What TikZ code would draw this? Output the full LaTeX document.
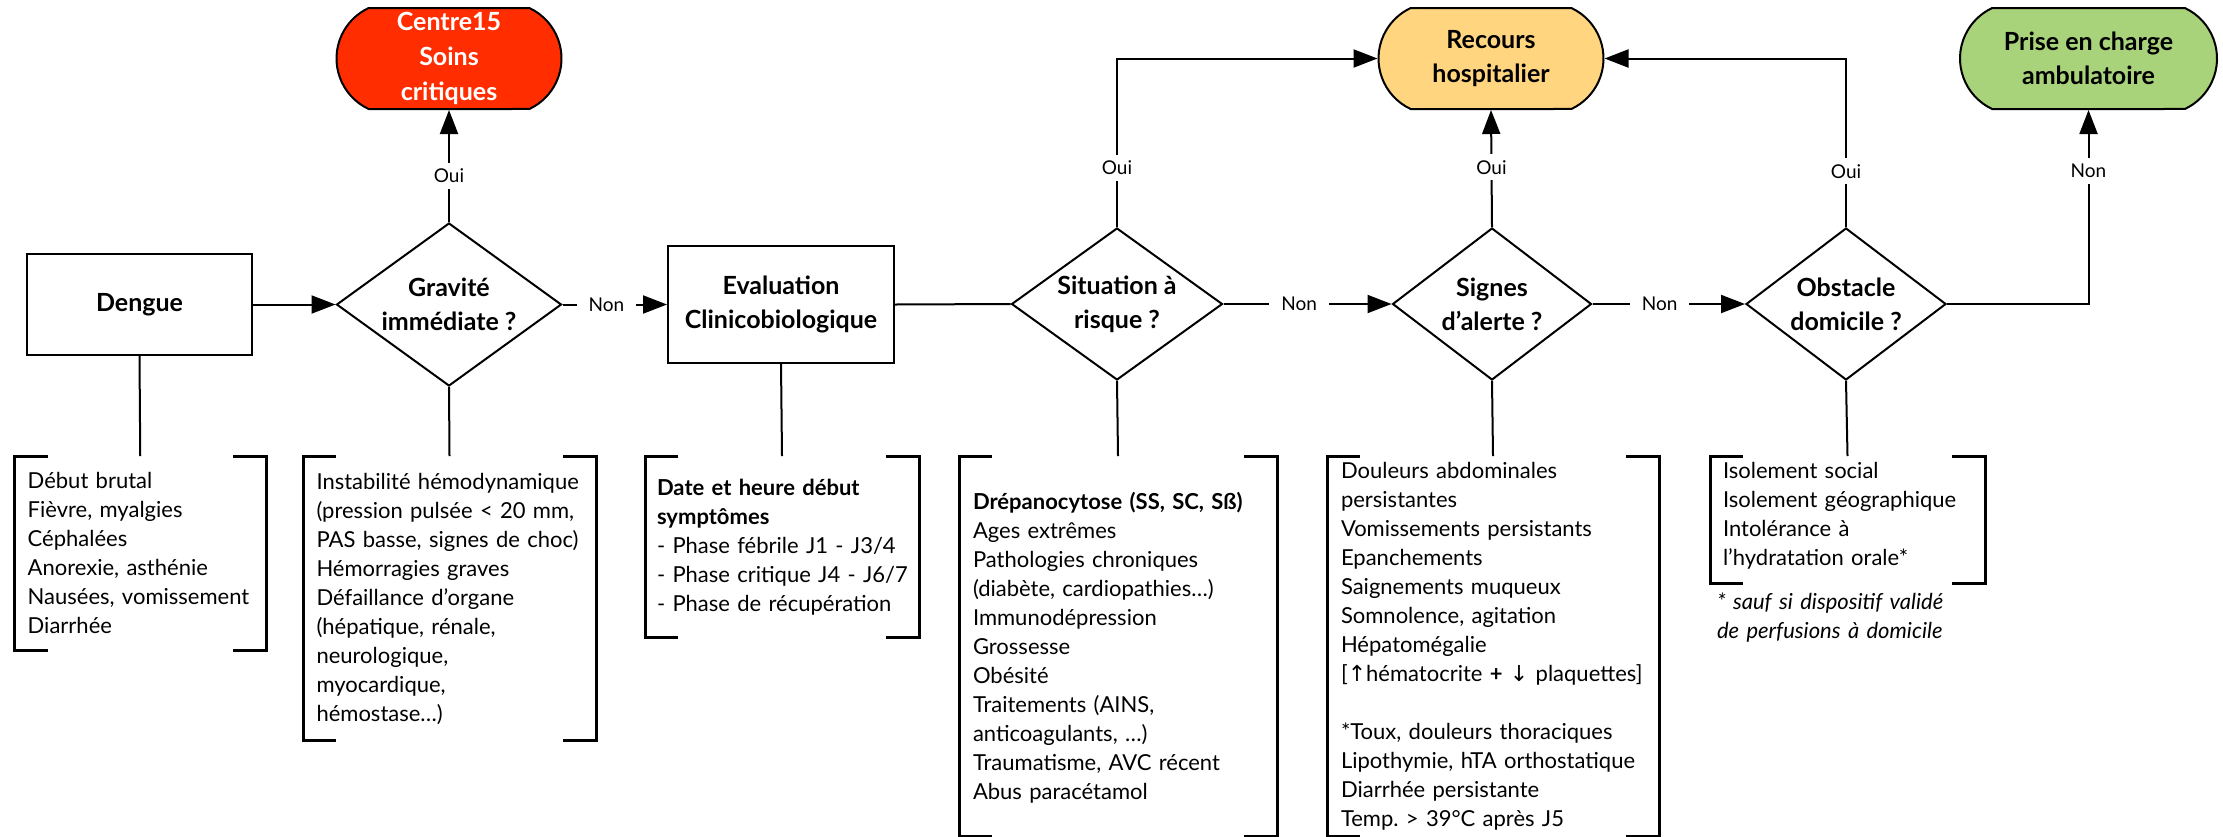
\documentclass[tikz,border=0pt]{standalone}
\usepackage{fontspec}
\setmainfont{Lato}
\newfontfamily\arrowfont{DejaVu Sans}
\usetikzlibrary{shapes.geometric,shapes.misc,arrows.meta}
\definecolor{cred}{HTML}{FF2D00}
\definecolor{cyel}{HTML}{FFD580}
\definecolor{cgrn}{HTML}{A9D37A}
\frenchspacing
\newcommand\drawbrk[1]{%
  \draw[brk] ([xshift=33pt]#1.north west) -- (#1.north west) -- (#1.south west) -- ([xshift=33pt]#1.south west);
  \draw[brk] ([xshift=-33pt]#1.north east) -- (#1.north east) -- (#1.south east) -- ([xshift=-33pt]#1.south east);}
\begin{document}
\begin{tikzpicture}[x=1pt,y=-1pt,line width=2pt,
  box/.style={draw, rectangle, inner sep=0pt, font=\fontsize{25}{34}\selectfont\bfseries, align=center},
  term/.style={draw, rounded rectangle, rounded rectangle arc length=130, minimum height=101pt, inner sep=0pt, font=\fontsize{25}{34}\selectfont\bfseries, align=center},
  dec/.style={draw, diamond, inner sep=0pt, font=\fontsize{25}{34}\selectfont\bfseries, align=center},
  lab/.style={fill=white, inner xsep=12pt, inner ysep=6pt, font=\fontsize{19}{22}\selectfont},
  arr/.style={-{Triangle[length=24pt,width=18pt]}},
  brk/.style={line width=3pt},
  brkbox/.style={inner sep=0pt, draw=none, anchor=north west},
  lst/.style={anchor=base west, inner sep=0pt, align=left, font=\fontsize{22}{29}\selectfont},
]
\fill[white] (0,0) rectangle (2223,836);
\useasboundingbox (0,0) rectangle (2223,836);

% main nodes
\node[box, minimum width=225pt, minimum height=101pt] (dengue) at (139.5,304.5) {Dengue};
\node[dec, minimum width=225pt, minimum height=163pt, aspect=1.38] (grav) at (449,304.5) {Gravité\\immédiate ?};
\node[box, minimum width=226pt, minimum height=117pt] (eval) at (781,304.5) {Evaluation\\Clinicobiologique};
\node[dec, minimum width=211pt, minimum height=152pt, aspect=1.39] (sit) at (1117,304) {Situation à\\risque ?};
\node[dec, minimum width=199pt, minimum height=152pt, aspect=1.31] (sig) at (1492,304) {Signes\\d’alerte ?};
\node[dec, minimum width=200pt, minimum height=152pt, aspect=1.31] (obs) at (1846,304) {Obstacle\\domicile ?};

\node[term, fill=cred, text=white, minimum width=225pt, font=\fontsize{25}{35}\selectfont\bfseries] (c15) at (449,58.5) {Centre15\\Soins\\critiques};
\node[term, fill=cyel, minimum width=225pt] (rec) at (1491,58.5) {Recours\\hospitalier};
\node[term, fill=cgrn, minimum width=257pt] (amb) at (2088.5,58.5) {Prise en charge\\ambulatoire};

% connectors
\draw[arr] (dengue.east) -- (grav.west);
\draw[arr] (grav.north) -- node[lab, pos=0.41] {Oui} (c15.south);
\draw[arr] (grav.east) -- node[lab, pos=0.42] {Non} (eval.west);
\draw (eval.east) -- (sit.west);
\draw[arr] (sit.north) |- node[lab, pos=0.176] {Oui} (rec.west);
\draw[arr] (sit.east) -- node[lab, pos=0.45] {Non} (sig.west);
\draw[arr] (sig.north) -- node[lab, pos=0.51] {Oui} (rec.south);
\draw[arr] (sig.east) -- node[lab, pos=0.44] {Non} (obs.west);
\draw[arr] (obs.north) |- node[lab, pos=0.165] {Oui} (rec.east);
\draw[arr] (obs.east) -| node[lab, pos=0.843] {Non} (amb.south);

% bracket boxes
\node[brkbox, minimum width=249.5pt, minimum height=192.5pt] (b1) at (14.5,456) {};
\node[brkbox, minimum width=291pt, minimum height=282pt] (b2) at (303,456) {};
\node[brkbox, minimum width=272pt, minimum height=179pt] (b3) at (645,456) {};
\node[brkbox, minimum width=316pt, minimum height=378pt] (b4) at (959,456) {};
\node[brkbox, minimum width=330pt, minimum height=378pt] (b5) at (1327,456) {};
\node[brkbox, minimum width=273pt, minimum height=125pt] (b6) at (1710,456) {};
\drawbrk{b1}\drawbrk{b2}\drawbrk{b3}\drawbrk{b4}\drawbrk{b5}\drawbrk{b6}

\draw (dengue.south) -- (b1.north);
\draw (grav.south) -- (b2.north);
\draw (eval.south) -- (b3.north);
\draw (sit.south) -- (b4.north);
\draw (sig.south) -- (b5.north);
\draw (obs.south) -- (b6.north);

% lists
\node[lst, text width=235pt] (t1) at (26.7,488) {Début brutal\\Fièvre, myalgies\\Céphalées\\Anorexie, asthénie\\Nausées, vomissement\\Diarrhée};
\node[lst, text width=275pt] (t2) at (315.5,489) {Instabilité hémodynamique\\(pression pulsée < 20 mm,\\PAS basse, signes de choc)\\Hémorragies graves\\Défaillance d’organe\\(hépatique, rénale,\\neurologique,\\myocardique,\\hémostase…)};
\node[lst, text width=255pt] (t3) at (656,495) {\textbf{Date et heure début}\\\textbf{symptômes}\\- Phase fébrile J1 - J3/4\\- Phase critique J4 - J6/7\\- Phase de récupération};
\node[lst, text width=300pt] (t4) at (972,509) {\textbf{Drépanocytose (SS, SC, Sß)}\\Ages extrêmes\\Pathologies chroniques\\(diabète, cardiopathies…)\\Immunodépression\\Grossesse\\Obésité\\Traitements (AINS,\\anticoagulants, …)\\Traumatisme, AVC récent\\Abus paracétamol};
\node[lst, text width=315pt] (t5) at (1340,478) {Douleurs abdominales\\persistantes\\Vomissements persistants\\Epanchements\\Saignements muqueux\\Somnolence, agitation\\Hépatomégalie\\{}[{\arrowfont ↑}hématocrite \textbf{+} {\arrowfont ↓} plaquettes]\\[29pt]{*}Toux, douleurs thoraciques\\Lipothymie, hTA orthostatique\\Diarrhée persistante\\Temp. > 39°C après J5};
\node[lst, text width=260pt] (t6) at (1722,478) {Isolement social\\Isolement géographique\\Intolérance à\\l’hydratation orale*};
\node[lst, text width=280pt, font=\fontsize{22}{29}\selectfont\itshape] (fn) at (1716,609) {* sauf si dispositif validé\\de perfusions à domicile};
\end{tikzpicture}
\end{document}
